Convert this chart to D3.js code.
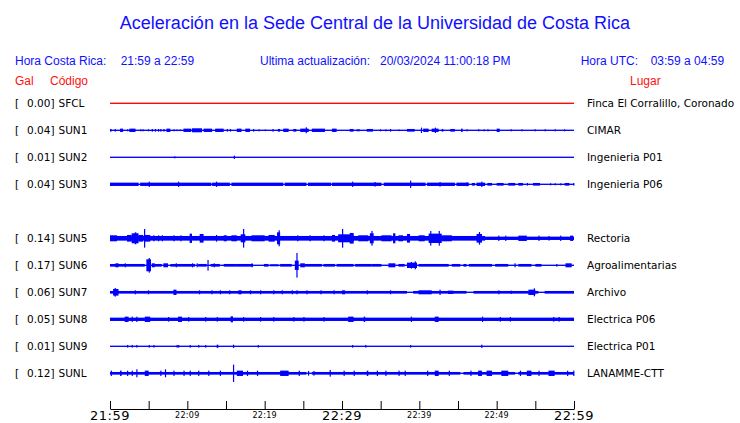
<!DOCTYPE html>
<html><head><meta charset="utf-8">
<script src="https://cdn.jsdelivr.net/npm/d3@7"></script>
<style>body{margin:0;background:#fff}svg{display:block}</style>
</head><body>
<svg id="c" width="740" height="423"></svg>
<script>
// ---------- data ----------
const title = "Aceleración en la Sede Central de la Universidad de Costa Rica";
const horaCR = "21:59 a 22:59";
const horaUTC = "03:59 a 04:59";
const actualizacion = "20/03/2024 11:00:18 PM";
const slots = ["SFCL","SUN1","SUN2","SUN3","SUN4","SUN5","SUN6","SUN7","SUN8","SUN9","SUNL"];
const codes = ["SFCL","SUN1","SUN2","SUN3","SUN5","SUN6","SUN7","SUN8","SUN9","SUNL"];
const gals = [0.00,0.04,0.01,0.04,0.14,0.17,0.06,0.05,0.01,0.12];
const places = ["Finca El Corralillo, Coronado","CIMAR","Ingenieria P01","Ingenieria P06","Rectoria","Agroalimentarias","Archivo","Electrica P06","Electrica P01","LANAMME-CTT"];
const traceColors = ["#ff0000","#0000ff","#0000ff","#0000ff","#0000ff","#0000ff","#0000ff","#0000ff","#0000ff","#0000ff"];
// base half-amplitude (relative units)
const baseAmp = [2,2,2,2,5,2,2,5,2,2];
// envelope events: [start minute, end minute, half-amplitude (relative units)]
const evSFCL = [];
const evSUN1 = [[0,0.2,4],[0.6,0.6,4],[1.3,1.7,5],[2.2,2.2,3],[2.5,3.3,5],[3.9,3.9,3],[4.2,4.2,3],[4.9,4.9,3],[5.4,5.4,4],[5.8,5.8,4],[6.2,6.2,4],[6.5,6.5,4],[6.9,6.9,4],[7.3,7.8,5],[8.2,8.2,3],[8.6,8.6,2.5],[9.0,9.0,2.5],[9.5,10.5,5],[10.6,11.9,6],[12.1,13.2,5],[13.6,14.7,5],[15.1,15.1,4],[15.5,15.5,4],[16.4,17.0,5],[17.5,18.1,5],[18.5,18.5,4],[19.2,19.2,3],[20.0,20.0,2.5],[21.0,21.0,4],[21.7,22.0,4],[22.4,23.1,5],[23.7,24.1,4],[24.6,25.7,5],[25.3,25.3,9],[26.1,27.8,5],[28.7,29.3,5],[31.0,31.5,4],[31.9,32.3,3],[33.2,34.0,4],[34.9,34.9,3],[35.6,35.6,3],[36.2,36.2,4],[37.3,37.3,2.5],[38.4,39.4,4],[40.2,40.2,8],[40.5,41.2,5],[41.6,42.5,5],[42.0,42.0,8],[42.9,43.1,4],[44.0,44.6,4],[45.4,45.6,5],[46.1,46.1,3],[47.6,47.6,3],[48.3,48.3,3],[48.8,48.8,3],[50.0,50.4,5],[51.8,51.8,3],[53.2,53.2,3],[54.9,54.9,3],[56.2,56.2,3],[57.5,57.5,3],[58.7,58.7,3]];
const evSUN2 = [[8.3,8.3,3],[16.0,16.0,5]];
const evSUN3 = [[0,3.7,5],[3.9,13.1,5],[13.2,15.5,5],[15.7,22.4,5],[22.6,25.4,5],[25.6,28.6,5],[28.7,35.1,5],[35.4,40.8,5],[41.0,44.6,5],[5.0,5.0,8],[8.8,8.8,8],[13.7,13.7,8],[31.3,31.3,8],[34.2,34.2,7],[38.8,38.8,11],[42.6,42.6,7],[44.8,46.4,5],[46.1,46.1,6],[46.8,47.2,4],[47.4,48.5,5],[48.0,48.0,8],[48.8,49.4,4],[50.0,50.9,4],[51.5,52.4,4],[52.8,53.4,4],[53.9,53.9,4],[54.7,55.6,4],[56.9,56.9,3],[57.5,57.5,3],[58.2,58.2,3],[58.8,59.4,4],[59.9,59.9,4]];
const evSUN5 = [[0,48.5,7],[0,0.9,9],[2.2,2.8,10],[2.8,3.7,15],[3.2,3.4,18],[3.7,4.3,10],[4.4,4.4,28],[4.5,5.2,10],[5.6,5.6,9],[6.2,6.2,9],[6.7,6.7,9],[8.2,8.2,9],[9.1,9.1,9],[10.3,10.6,14],[11.6,12.1,13],[13.7,13.7,10],[14.7,15.1,9],[15.7,16.4,9],[16.9,17.5,12],[17.2,17.2,28],[18.3,20,9],[20.5,21.3,10],[21.6,22,18],[21.8,21.8,24],[24.2,24.2,9],[25.8,25.8,9],[27.6,27.6,9],[28.7,29.1,10],[29.5,31.5,12],[30.0,30.0,28],[31.0,31.5,16],[32.1,33.4,9],[33.6,34.1,15],[33.8,33.8,22],[35.1,36.4,9],[36.6,36.9,15],[37.3,37.9,9],[38.4,38.8,13],[39.9,40.7,9],[41.2,42.9,14],[41.4,41.4,22],[42.5,42.5,22],[42.9,44.2,9],[47.4,48.1,13],[47.7,47.7,19],[50.2,50.2,8],[51.1,51.1,8],[52.8,53.9,8],[55.4,55.4,8],[56.7,56.7,7],[58.2,58.2,8],[59.5,59.9,8]];
const evSUN6 = [[0,2.2,4],[0.7,1.1,6],[1.9,1.9,6],[2.2,4.5,4],[4.7,5.3,18],[5.0,5.0,22],[5.4,5.8,6],[5.8,6.7,4],[6.9,7.5,6],[7.8,11.0,4],[8.5,8.5,6],[10.6,10.6,6],[11.2,11.2,6],[11.4,12.5,4],[12.6,12.6,16],[13.0,14.2,4],[13.4,13.4,6],[14.7,16.4,4],[16.4,18.5,4],[18.3,18.3,6],[19.9,20.5,4],[20.7,21.8,3],[22.0,23.5,4],[23.9,24.4,14],[24.1,24.1,37],[24.6,25.2,6],[25.2,27.4,4],[27.6,29.1,4],[29.3,31.5,4],[31.7,33.8,4],[33.8,35.1,4],[36.0,36.9,6],[37.3,38.1,4],[38.4,39.7,8],[38.9,38.9,10],[39.4,39.4,12],[39.9,43.8,4],[44.2,45.3,4],[45.7,46.1,4],[46.4,49.4,4],[49.8,51.5,4],[52.3,52.3,6],[52.8,54.5,4],[55.0,55.8,4],[57.7,57.7,4],[58.9,59.7,6]];
const evSUN7 = [[0,38.4,4],[39.2,46.1,4],[47.0,55.4,4],[56.2,60,4],[0.4,1.1,10],[0.6,0.6,13],[3.2,3.2,6],[4.9,4.9,6],[8.2,8.6,8],[11.5,11.5,6],[13.1,13.1,6],[14.2,14.2,6],[15.4,15.4,6],[16.6,17.0,6],[18.1,18.1,6],[19.4,19.4,6],[21.1,21.1,6],[22.2,22.2,6],[23.5,23.5,6],[24.1,24.1,6],[25.4,25.4,6],[27.2,27.2,6],[28.9,28.9,6],[30.0,30.4,6],[33.2,33.2,6],[36.2,36.2,6],[39.9,41.6,6],[42.6,42.6,8],[43.7,44.4,5],[50.2,50.2,6],[51.8,51.8,5],[54.1,55.0,8],[54.8,54.8,12]];
const evSUN8 = [[1.9,2.4,8],[2.8,2.8,8],[3.4,3.4,8],[4.5,5.2,8],[7.5,7.5,7],[8.8,9.3,8],[10.1,10.1,7],[12.3,12.3,7],[13.8,13.8,7],[15.6,15.9,9],[17.2,17.2,7],[19.4,19.4,7],[21.1,21.1,7],[23.7,23.7,7],[25.0,25.0,7],[27.6,27.6,7],[30.8,31.5,8],[32.8,33.0,8],[38.9,38.9,8],[42.0,42.5,8],[48.1,48.1,8],[50.4,50.4,7],[51.7,51.7,7],[57.3,57.3,7],[58.0,58.0,7]];
const evSUN9 = [[2.2,2.2,4],[2.8,2.8,4],[3.4,3.4,4],[5.0,5.0,4],[5.6,5.6,4],[8.6,8.6,4],[8.8,8.8,4],[10.3,10.3,4],[11.4,11.4,4],[12.3,12.3,4],[13.8,14.0,5],[15.9,15.9,5],[19.1,19.1,4],[31.3,31.3,4],[33.0,33.0,4],[38.8,38.8,4],[48.0,48.0,5]];
const evSUNL = [[0,25.4,4],[26.1,45.3,4],[45.7,52.4,4],[52.8,60,4],[0.1,0.1,8],[1.3,1.5,8],[2.2,2.2,8],[2.8,2.8,8],[3.4,3.4,12],[4.5,5.0,8],[6.5,6.5,8],[7.1,7.1,12],[8.2,8.2,8],[9.5,9.5,8],[10.3,10.3,8],[11.4,11.4,8],[12.7,12.7,8],[14.2,14.2,8],[15.9,15.9,26],[16.4,17.2,8],[17.7,17.7,8],[19.0,19.0,8],[22.0,23.1,8],[24.4,24.4,8],[25.6,25.6,7],[26.3,26.3,7],[28.4,28.4,10],[30.2,30.2,8],[31.5,31.5,8],[33.2,33.4,8],[34.5,34.5,8],[35.6,35.6,8],[37.3,37.3,8],[38.1,38.1,8],[41.0,41.0,8],[42.0,42.5,8],[43.8,43.8,8],[46.6,46.6,8],[47.6,48.1,8],[48.7,49.4,8],[50.6,51.5,8],[53.0,53.0,8],[53.9,54.5,8],[55.4,55.4,8],[56.7,57.5,8],[59.1,59.1,8],[59.9,59.9,8]];
const events = [evSFCL,evSUN1,evSUN2,evSUN3,evSUN5,evSUN6,evSUN7,evSUN8,evSUN9,evSUNL];
const tickMinutes = [0,5,10,15,20,25,30,35,40,45,50,55,60];
const tickLabels = ["21:59","","22:09","","22:19","","22:29","","22:39","","22:49","","22:59"];
const majorLabels = ["21:59","22:29","22:59"];

// ---------- drawing ----------
const svg = d3.select("#c");
const blue = "#1010ff", red = "#ff1010";
const x = d3.scaleLinear().domain([0,60]).range([110,574]);
const y = d3.scalePoint().domain(slots).range([103.3,373.3]);
const amp = d3.scaleLinear().domain([0,30]).range([0,10]);

svg.append("text").attr("x",375).attr("y",29).attr("text-anchor","middle")
  .attr("font-family","Liberation Sans, Arial, sans-serif").attr("font-size",18)
  .attr("fill",blue).text(title);

const hdr = [
  {x:15, t:"Hora Costa Rica:"},{x:120.7,t:horaCR},
  {x:260, t:"Ultima actualización:"},{x:380,t:actualizacion},
  {x:580.7,t:"Hora UTC:"},{x:650.7,t:horaUTC}];
svg.selectAll("text.h").data(hdr).join("text").attr("class","h")
  .attr("x",d=>d.x).attr("y",65).attr("font-family","Liberation Sans, Arial, sans-serif")
  .attr("font-size",12).attr("fill",blue).text(d=>d.t);
const hdr2 = [{x:15,t:"Gal"},{x:50,t:"Código"},{x:630,t:"Lugar"}];
svg.selectAll("text.h2").data(hdr2).join("text").attr("class","h2")
  .attr("x",d=>d.x).attr("y",85).attr("font-family","Liberation Sans, Arial, sans-serif")
  .attr("font-size",12).attr("fill",red).text(d=>d.t);

const rows = codes.map((c,i)=>({code:c, gal:gals[i], place:places[i], color:traceColors[i], base:baseAmp[i], ev:events[i]}));
const g = svg.selectAll("g.row").data(rows).join("g").attr("class","row")
  .attr("transform",d=>`translate(0,${y(d.code)})`);
const lf = "DejaVu Sans, sans-serif";
const fs = 10.5;
g.append("text").attr("x",15).attr("y",4).attr("font-family",lf).attr("font-size",fs).text("[");
g.append("text").attr("x",54.5).attr("y",4).attr("text-anchor","end").attr("font-family",lf).attr("font-size",fs)
  .text(d=>d3.format(".2f")(d.gal)+"]");
g.append("text").attr("x",58.5).attr("y",4).attr("font-family",lf).attr("font-size",fs).text(d=>d.code);
g.append("text").attr("x",587).attr("y",4).attr("font-family",lf).attr("font-size",fs).text(d=>d.place);

g.append("rect").attr("x",x(0)).attr("width",x(60)-x(0))
  .attr("y",d=>-amp(d.base)).attr("height",d=>2*amp(d.base)).attr("fill",d=>d.color);
g.each(function(d){
  d3.select(this).selectAll("rect.ev").data(d.ev).join("rect").attr("class","ev")
    .attr("x",e=>x(e[0])).attr("width",e=>Math.max(1.2,x(e[1])-x(e[0])))
    .attr("y",e=>-amp(e[2])).attr("height",e=>2*amp(e[2])).attr("fill",d.color);
});

// axis
const axis = d3.axisBottom(x).tickValues(tickMinutes).tickSize(-8).tickSizeOuter(0).tickFormat("");
const ax = svg.append("g").attr("transform","translate(0,409)").call(axis);
ax.select(".domain").attr("stroke","#000");
ax.selectAll(".tick line").attr("stroke","#000");
svg.selectAll("text.tl").data(tickMinutes.map((m,i)=>({m,l:tickLabels[i]})).filter(d=>d.l)).join("text")
  .attr("class","tl").attr("x",d=>x(d.m)).attr("text-anchor","middle")
  .attr("y",d=>majorLabels.includes(d.l)?420:417.5)
  .attr("font-family",lf).attr("font-size",d=>majorLabels.includes(d.l)?13:8)
  .attr("letter-spacing",d=>majorLabels.includes(d.l)?0.5:0.3)
  .text(d=>d.l);
</script>
</body></html>
